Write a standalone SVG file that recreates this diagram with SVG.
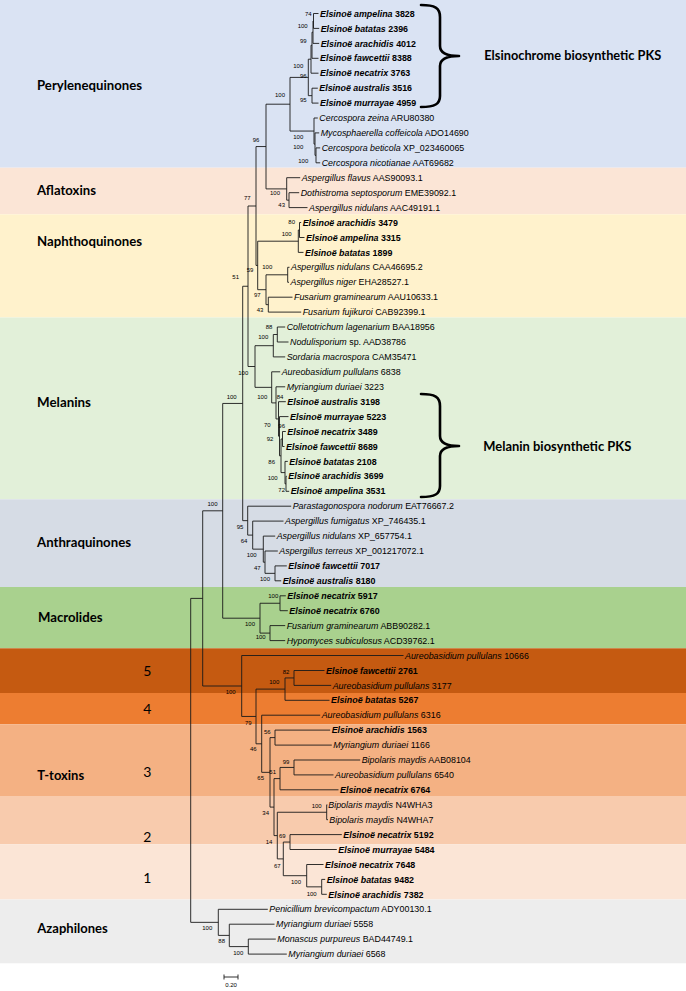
<svg xmlns="http://www.w3.org/2000/svg" width="686" height="991" viewBox="0 0 686 991">
<style>
.br{fill:none;stroke:#1a1a1a;stroke-width:0.9}
.t{font-family:"Liberation Sans",Arial,sans-serif;font-size:8.9px;fill:#000}
.i{font-style:italic}
.b{font-weight:bold}
.bs{font-family:"Liberation Sans",Arial,sans-serif;font-size:6px;text-anchor:middle;fill:#000}
.cl{font-family:Lato,"Open Sans",sans-serif;font-weight:bold;font-size:14px;fill:#000}
.num{font-family:Lato,"Open Sans",sans-serif;font-size:14px;text-anchor:middle;fill:#000}
.brace{fill:none;stroke:#000;stroke-width:2.6;stroke-linejoin:round;stroke-linecap:round}
</style>
<rect width="686" height="991" fill="#fff"/>
<g id="bands">
<rect x="0" y="0" width="686" height="167.7" fill="#dae3f3"/>
<rect x="0" y="167.7" width="686" height="46.6" fill="#fbe5d6"/>
<rect x="0" y="214.3" width="686" height="103.2" fill="#fff2cc"/>
<rect x="0" y="317.5" width="686" height="181.8" fill="#e2f0d9"/>
<rect x="0" y="499.3" width="686" height="87.7" fill="#d6dce5"/>
<rect x="0" y="587" width="686" height="61.3" fill="#a9d18e"/>
<rect x="0" y="648.3" width="686" height="44.7" fill="#c55a11"/>
<rect x="0" y="693" width="686" height="31.2" fill="#ed7d31"/>
<rect x="0" y="724.2" width="686" height="71.8" fill="#f4b183"/>
<rect x="0" y="796" width="686" height="48.2" fill="#f8cbad"/>
<rect x="0" y="844.2" width="686" height="55.3" fill="#fbe5d6"/>
<rect x="0" y="899.5" width="686" height="63.8" fill="#ededed"/>
</g>
<g id="class-labels">
<text class="cl" x="37" y="90" textLength="105" lengthAdjust="spacingAndGlyphs">Perylenequinones</text>
<text class="cl" x="37" y="195" textLength="59" lengthAdjust="spacingAndGlyphs">Aflatoxins</text>
<text class="cl" x="37" y="246" textLength="105" lengthAdjust="spacingAndGlyphs">Naphthoquinones</text>
<text class="cl" x="37" y="407" textLength="54" lengthAdjust="spacingAndGlyphs">Melanins</text>
<text class="cl" x="37" y="547" textLength="94" lengthAdjust="spacingAndGlyphs">Anthraquinones</text>
<text class="cl" x="38" y="622" textLength="64.5" lengthAdjust="spacingAndGlyphs">Macrolides</text>
<text class="cl" x="37.3" y="780" textLength="46.8" lengthAdjust="spacingAndGlyphs">T-toxins</text>
<text class="cl" x="37.3" y="933" textLength="70.5" lengthAdjust="spacingAndGlyphs">Azaphilones</text>
<text class="num" x="147.3" y="676">5</text>
<text class="num" x="147.3" y="714">4</text>
<text class="num" x="147.3" y="777">3</text>
<text class="num" x="147.3" y="842">2</text>
<text class="num" x="147.3" y="883">1</text>
</g>
<g id="connectors">
<path class="br" d="M313.5,13.5V28.4M313.5,13.5H318.5M313.5,28.4H319.2"/>
<path class="br" d="M313,21V43.4M313,21H313.5M313,43.4H319.2"/>
<path class="br" d="M312,32.2V58.3M312,32.2H313M312,58.3H318.5"/>
<path class="br" d="M311,45.25V73.2M311,45.25H312M311,73.2H318.5"/>
<path class="br" d="M312,88.2V103.1M312,88.2H317.8M312,103.1H318.5"/>
<path class="br" d="M308.3,59.2V95.65M308.3,59.2H311M308.3,95.65H312"/>
<path class="br" d="M316,147.9V162.8M316,147.9H320.2M316,162.8H320.2"/>
<path class="br" d="M315,132.9V155.35M315,132.9H319.2M315,155.35H316"/>
<path class="br" d="M314,118V144.1M314,118H317.8M314,144.1H315"/>
<path class="br" d="M290,77.4V131.05M290,77.4H308.3M290,131.05H314"/>
<path class="br" d="M289,192.7V207.6M289,192.7H299.2M289,207.6H307.5"/>
<path class="br" d="M286.7,177.7V200.15M286.7,177.7H300.2M286.7,200.15H289"/>
<path class="br" d="M266,104.2V188.9M266,104.2H290M266,188.9H286.7"/>
<path class="br" d="M299.5,222.5V237.5M299.5,222.5H301.2M299.5,237.5H304.5"/>
<path class="br" d="M298.3,230V252.4M298.3,230H299.5M298.3,252.4H303.5"/>
<path class="br" d="M287.7,267.3V282.3M287.7,267.3H289.5M287.7,282.3H289"/>
<path class="br" d="M268.3,297.2V312.1M268.3,297.2H292.5M268.3,312.1H301.2"/>
<path class="br" d="M266,274.8V304.65M266,274.8H287.7M266,304.65H268.3"/>
<path class="br" d="M257.7,241.2V289.7M257.7,241.2H298.3M257.7,289.7H266"/>
<path class="br" d="M256,146.55V265.45M256,146.55H266M256,265.45H257.7"/>
<path class="br" d="M277.3,327V342M277.3,327H285.2M277.3,342H288.5"/>
<path class="br" d="M273.3,334.5V356.9M273.3,334.5H277.3M273.3,356.9H285.2"/>
<path class="br" d="M286,476.3V491.3M286,476.3H286.8M286,491.3H289.2"/>
<path class="br" d="M285,461.4V483.8M285,461.4H287.8M285,483.8H286"/>
<path class="br" d="M282.5,431.5V446.5M282.5,431.5H285.8M282.5,446.5H284.5"/>
<path class="br" d="M281,439V472.6M281,439H282.5M281,472.6H285"/>
<path class="br" d="M279.5,416.6V455.8M279.5,416.6H288.5M279.5,455.8H281"/>
<path class="br" d="M278.5,401.7V436.2M278.5,401.7H285.8M278.5,436.2H279.5"/>
<path class="br" d="M276,386.8V418.95M276,386.8H285.2M276,418.95H278.5"/>
<path class="br" d="M271.7,371.8V402.9M271.7,371.8H280.2M271.7,402.9H276"/>
<path class="br" d="M255,345.7V387.35M255,345.7H273.3M255,387.35H271.7"/>
<path class="br" d="M248,206V366.5M248,206H256M248,366.5H255"/>
<path class="br" d="M275,565.9V580.8M275,565.9H286.8M275,580.8H281.2"/>
<path class="br" d="M265,551V573.35M265,551H277.8M265,573.35H275"/>
<path class="br" d="M263.3,536.1V562.2M263.3,536.1H275.2M263.3,562.2H265"/>
<path class="br" d="M252.7,521.1V549.15M252.7,521.1H283.5M252.7,549.15H263.3"/>
<path class="br" d="M247.7,506.2V535.1M247.7,506.2H291.2M247.7,535.1H252.7"/>
<path class="br" d="M242.7,286.25V520.65M242.7,286.25H248M242.7,520.65H247.7"/>
<path class="br" d="M280,595.8V610.7M280,595.8H285.8M280,610.7H287.8"/>
<path class="br" d="M270,625.6V640.6M270,625.6H285.2M270,640.6H285.2"/>
<path class="br" d="M260,603.25V633.1M260,603.25H280M260,633.1H270"/>
<path class="br" d="M222.7,403.45V618.2M222.7,403.45H242.7M222.7,618.2H260"/>
<path class="br" d="M294,670.5V685.4M294,670.5H324.5M294,685.4H331.2"/>
<path class="br" d="M285,677.95V700.3M285,677.95H294M285,700.3H329.5"/>
<path class="br" d="M275,730.1V745.1M275,730.1H330.2M275,745.1H331.8"/>
<path class="br" d="M294,760V774.9M294,760H360.2M294,774.9H333.5"/>
<path class="br" d="M280,767.45V789.8M280,767.45H294M280,789.8H338.5"/>
<path class="br" d="M326.7,804.8V819.7M326.7,804.8H327.3M326.7,819.7H328"/>
<path class="br" d="M290,834.6V849.5M290,834.6H341.8M290,849.5H336.8"/>
<path class="br" d="M321.7,879.4V894.3M321.7,879.4H325.2M321.7,894.3H326.8"/>
<path class="br" d="M306.7,864.5V886.85M306.7,864.5H323.5M306.7,886.85H321.7"/>
<path class="br" d="M283.3,842.05V875.7M283.3,842.05H290M283.3,875.7H306.7"/>
<path class="br" d="M277.3,812.25V858.9M277.3,812.25H326.7M277.3,858.9H283.3"/>
<path class="br" d="M274,778.6V835.6M274,778.6H280M274,835.6H277.3"/>
<path class="br" d="M270,737.6V807.1M270,737.6H275M270,807.1H274"/>
<path class="br" d="M261.7,715.2V772.35M261.7,715.2H320.2M261.7,772.35H270"/>
<path class="br" d="M256,689.1V743.8M256,689.1H285M256,743.8H261.7"/>
<path class="br" d="M241.7,655.5V716.45M241.7,655.5H403.5M241.7,716.45H256"/>
<path class="br" d="M202.7,510.8V686M202.7,510.8H222.7M202.7,686H241.7"/>
<path class="br" d="M248.3,939.1V954.1M248.3,939.1H275.8M248.3,954.1H286.8"/>
<path class="br" d="M229.3,924.2V946.6M229.3,924.2H274.5M229.3,946.6H248.3"/>
<path class="br" d="M218.3,909.3V935.4M218.3,909.3H267.8M218.3,935.4H229.3"/>
<path class="br" d="M190.7,598.4V922.35M190.7,598.4H202.7M190.7,922.35H218.3"/>
</g>
<g id="tips" class="t">
<g id="tip00"><text x="320" y="16.6" class="b"><tspan class="i">Elsinoë ampelina</tspan> 3828</text></g>
<g id="tip01"><text x="320.7" y="31.5" class="b"><tspan class="i">Elsinoë batatas</tspan> 2396</text></g>
<g id="tip02"><text x="320.7" y="46.5" class="b"><tspan class="i">Elsinoë arachidis</tspan> 4012</text></g>
<g id="tip03"><text x="320" y="61.4" class="b"><tspan class="i">Elsinoë fawcettii</tspan> 8388</text></g>
<g id="tip04"><text x="320" y="76.3" class="b"><tspan class="i">Elsinoë necatrix</tspan> 3763</text></g>
<g id="tip05"><text x="319.3" y="91.3" class="b"><tspan class="i">Elsinoë australis</tspan> 3516</text></g>
<g id="tip06"><text x="320" y="106.2" class="b"><tspan class="i">Elsinoë murrayae</tspan> 4959</text></g>
<g id="tip07"><text x="319.3" y="121.1"><tspan class="i">Cercospora zeina</tspan> ARU80380</text></g>
<g id="tip08"><text x="320.7" y="136"><tspan class="i">Mycosphaerella coffeicola</tspan> ADO14690</text></g>
<g id="tip09"><text x="321.7" y="151"><tspan class="i">Cercospora beticola</tspan> XP_023460065</text></g>
<g id="tip10"><text x="321.7" y="165.9"><tspan class="i">Cercospora nicotianae</tspan> AAT69682</text></g>
<g id="tip11"><text x="301.7" y="180.8"><tspan class="i">Aspergillus flavus</tspan> AAS90093.1</text></g>
<g id="tip12"><text x="300.7" y="195.8"><tspan class="i">Dothistroma septosporum</tspan> EME39092.1</text></g>
<g id="tip13"><text x="309" y="210.7"><tspan class="i">Aspergillus nidulans</tspan> AAC49191.1</text></g>
<g id="tip14"><text x="302.7" y="225.6" class="b"><tspan class="i">Elsinoë arachidis</tspan> 3479</text></g>
<g id="tip15"><text x="306" y="240.6" class="b"><tspan class="i">Elsinoë ampelina</tspan> 3315</text></g>
<g id="tip16"><text x="305" y="255.5" class="b"><tspan class="i">Elsinoë batatas</tspan> 1899</text></g>
<g id="tip17"><text x="291" y="270.4"><tspan class="i">Aspergillus nidulans</tspan> CAA46695.2</text></g>
<g id="tip18"><text x="290.5" y="285.3"><tspan class="i">Aspergillus niger</tspan> EHA28527.1</text></g>
<g id="tip19"><text x="294" y="300.3"><tspan class="i">Fusarium graminearum</tspan> AAU10633.1</text></g>
<g id="tip20"><text x="302.7" y="315.2"><tspan class="i">Fusarium fujikuroi</tspan> CAB92399.1</text></g>
<g id="tip21"><text x="286.7" y="330.1"><tspan class="i">Colletotrichum lagenarium</tspan> BAA18956</text></g>
<g id="tip22"><text x="290" y="345.1"><tspan class="i">Nodulisporium</tspan> sp. AAD38786</text></g>
<g id="tip23"><text x="286.7" y="360"><tspan class="i">Sordaria macrospora</tspan> CAM35471</text></g>
<g id="tip24"><text x="281.7" y="374.9"><tspan class="i">Aureobasidium pullulans</tspan> 6838</text></g>
<g id="tip25"><text x="286.7" y="389.9"><tspan class="i">Myriangium duriaei</tspan> 3223</text></g>
<g id="tip26"><text x="287.3" y="404.8" class="b"><tspan class="i">Elsinoë australis</tspan> 3198</text></g>
<g id="tip27"><text x="290" y="419.7" class="b"><tspan class="i">Elsinoë murrayae</tspan> 5223</text></g>
<g id="tip28"><text x="287.3" y="434.6" class="b"><tspan class="i">Elsinoë necatrix</tspan> 3489</text></g>
<g id="tip29"><text x="286" y="449.6" class="b"><tspan class="i">Elsinoë fawcettii</tspan> 8689</text></g>
<g id="tip30"><text x="289.3" y="464.5" class="b"><tspan class="i">Elsinoë batatas</tspan> 2108</text></g>
<g id="tip31"><text x="288.3" y="479.4" class="b"><tspan class="i">Elsinoë arachidis</tspan> 3699</text></g>
<g id="tip32"><text x="290.7" y="494.4" class="b"><tspan class="i">Elsinoë ampelina</tspan> 3531</text></g>
<g id="tip33"><text x="292.7" y="509.3"><tspan class="i">Parastagonospora nodorum</tspan> EAT76667.2</text></g>
<g id="tip34"><text x="285" y="524.2"><tspan class="i">Aspergillus fumigatus</tspan> XP_746435.1</text></g>
<g id="tip35"><text x="276.7" y="539.2"><tspan class="i">Aspergillus nidulans</tspan> XP_657754.1</text></g>
<g id="tip36"><text x="279.3" y="554.1"><tspan class="i">Aspergillus terreus</tspan> XP_001217072.1</text></g>
<g id="tip37"><text x="288.3" y="569" class="b"><tspan class="i">Elsinoë fawcettii</tspan> 7017</text></g>
<g id="tip38"><text x="282.7" y="583.9" class="b"><tspan class="i">Elsinoë australis</tspan> 8180</text></g>
<g id="tip39"><text x="287.3" y="598.9" class="b"><tspan class="i">Elsinoë necatrix</tspan> 5917</text></g>
<g id="tip40"><text x="289.3" y="613.8" class="b"><tspan class="i">Elsinoë necatrix</tspan> 6760</text></g>
<g id="tip41"><text x="286.7" y="628.7"><tspan class="i">Fusarium graminearum</tspan> ABB90282.1</text></g>
<g id="tip42"><text x="286.7" y="643.7"><tspan class="i">Hypomyces subiculosus</tspan> ACD39762.1</text></g>
<g id="tip43"><text x="405" y="658.6"><tspan class="i">Aureobasidium pullulans</tspan> 10666</text></g>
<g id="tip44"><text x="326" y="673.5" class="b"><tspan class="i">Elsinoë fawcettii</tspan> 2761</text></g>
<g id="tip45"><text x="332.7" y="688.5"><tspan class="i">Aureobasidium pullulans</tspan> 3177</text></g>
<g id="tip46"><text x="331" y="703.4" class="b"><tspan class="i">Elsinoë batatas</tspan> 5267</text></g>
<g id="tip47"><text x="321.7" y="718.3"><tspan class="i">Aureobasidium pullulans</tspan> 6316</text></g>
<g id="tip48"><text x="331.7" y="733.2" class="b"><tspan class="i">Elsinoë arachidis</tspan> 1563</text></g>
<g id="tip49"><text x="333.3" y="748.2"><tspan class="i">Myriangium duriaei</tspan> 1166</text></g>
<g id="tip50"><text x="361.7" y="763.1"><tspan class="i">Bipolaris maydis</tspan> AAB08104</text></g>
<g id="tip51"><text x="335" y="778"><tspan class="i">Aureobasidium pullulans</tspan> 6540</text></g>
<g id="tip52"><text x="340" y="793" class="b"><tspan class="i">Elsinoë necatrix</tspan> 6764</text></g>
<g id="tip53"><text x="328.3" y="807.9"><tspan class="i">Bipolaris maydis</tspan> N4WHA3</text></g>
<g id="tip54"><text x="329.3" y="822.8"><tspan class="i">Bipolaris maydis</tspan> N4WHA7</text></g>
<g id="tip55"><text x="343.3" y="837.8" class="b"><tspan class="i">Elsinoë necatrix</tspan> 5192</text></g>
<g id="tip56"><text x="338.3" y="852.7" class="b"><tspan class="i">Elsinoë murrayae</tspan> 5484</text></g>
<g id="tip57"><text x="325" y="867.6" class="b"><tspan class="i">Elsinoë necatrix</tspan> 7648</text></g>
<g id="tip58"><text x="326.7" y="882.5" class="b"><tspan class="i">Elsinoë batatas</tspan> 9482</text></g>
<g id="tip59"><text x="328.3" y="897.5" class="b"><tspan class="i">Elsinoë arachidis</tspan> 7382</text></g>
<g id="tip60"><text x="269.3" y="912.4"><tspan class="i">Penicillium brevicompactum</tspan> ADY00130.1</text></g>
<g id="tip61"><text x="276" y="927.3"><tspan class="i">Myriangium duriaei</tspan> 5558</text></g>
<g id="tip62"><text x="277.3" y="942.3"><tspan class="i">Monascus purpureus</tspan> BAD44749.1</text></g>
<g id="tip63"><text x="288.3" y="957.2"><tspan class="i">Myriangium duriaei</tspan> 6568</text></g>
</g>
<g id="bootstrap" class="bs">
<text x="308.3" y="16">74</text>
<text x="302.7" y="27.7">100</text>
<text x="303.3" y="42.7">99</text>
<text x="298.3" y="68">100</text>
<text x="303.3" y="78">96</text>
<text x="303.3" y="102">95</text>
<text x="280" y="97">100</text>
<text x="256" y="142">96</text>
<text x="298.3" y="138.7">100</text>
<text x="298.3" y="148.7">100</text>
<text x="303.3" y="163.3">100</text>
<text x="247.3" y="200.3">77</text>
<text x="275" y="195.3">100</text>
<text x="281.7" y="207">43</text>
<text x="291.7" y="223.7">80</text>
<text x="286.7" y="236">100</text>
<text x="250" y="272">59</text>
<text x="267.3" y="269.3">100</text>
<text x="235.7" y="278.7">51</text>
<text x="257.3" y="297">97</text>
<text x="260" y="312">43</text>
<text x="269" y="329.3">88</text>
<text x="263.3" y="339.3">100</text>
<text x="243.3" y="375.3">100</text>
<text x="231.7" y="398.7">100</text>
<text x="262.3" y="398.7">100</text>
<text x="280" y="399.3">84</text>
<text x="267.3" y="427">70</text>
<text x="281.7" y="428">96</text>
<text x="270" y="441">92</text>
<text x="271.7" y="463.7">86</text>
<text x="272.7" y="480.3">100</text>
<text x="281.7" y="492">72</text>
<text x="212.5" y="505.5">100</text>
<text x="240" y="528.7">95</text>
<text x="244" y="543">64</text>
<text x="251.7" y="557">100</text>
<text x="257.3" y="569.7">47</text>
<text x="265" y="581.3">100</text>
<text x="273.3" y="598">100</text>
<text x="250" y="626.3">100</text>
<text x="260.7" y="639.3">100</text>
<text x="286" y="673.7">82</text>
<text x="274.3" y="684.3">100</text>
<text x="230.7" y="693.7">100</text>
<text x="248.3" y="724.7">79</text>
<text x="267.3" y="733.7">56</text>
<text x="253.3" y="751">46</text>
<text x="286" y="763.7">99</text>
<text x="260.7" y="780.3">65</text>
<text x="272.7" y="774.3">51</text>
<text x="316.7" y="808">100</text>
<text x="265.7" y="815.3">34</text>
<text x="282.3" y="837.7">69</text>
<text x="269" y="843.7">14</text>
<text x="277.3" y="868">67</text>
<text x="296" y="884.3">100</text>
<text x="311.7" y="896">100</text>
<text x="207.3" y="930.3">100</text>
<text x="221.7" y="943">88</text>
<text x="238.3" y="955.3">100</text>
</g>
<g id="brace-elsinochrome">
<path class="brace" d="M421,5C435,5 440,8 440,17L440,46C440,53 446,56 459,56C446,56 440,59 440,66L440,96C440,104 435,107 421,107"/>
<text class="cl" x="484.3" y="60" textLength="177" lengthAdjust="spacingAndGlyphs">Elsinochrome biosynthetic PKS</text>
</g>
<g id="brace-melanin">
<path class="brace" d="M421,394C435,394 440,397 440,406L440,436C440,443 446,446 459,446C446,446 440,449 440,456L440,486C440,494 435,497 421,497"/>
<text class="cl" x="483.3" y="451" textLength="148" lengthAdjust="spacingAndGlyphs">Melanin biosynthetic PKS</text>
</g>
<g id="scale-bar">
<path class="br" d="M224,977H238M224,974.5V979.5M238,974.5V979.5"/>
<text class="bs" x="231" y="987">0.20</text>
</g>
</svg>
